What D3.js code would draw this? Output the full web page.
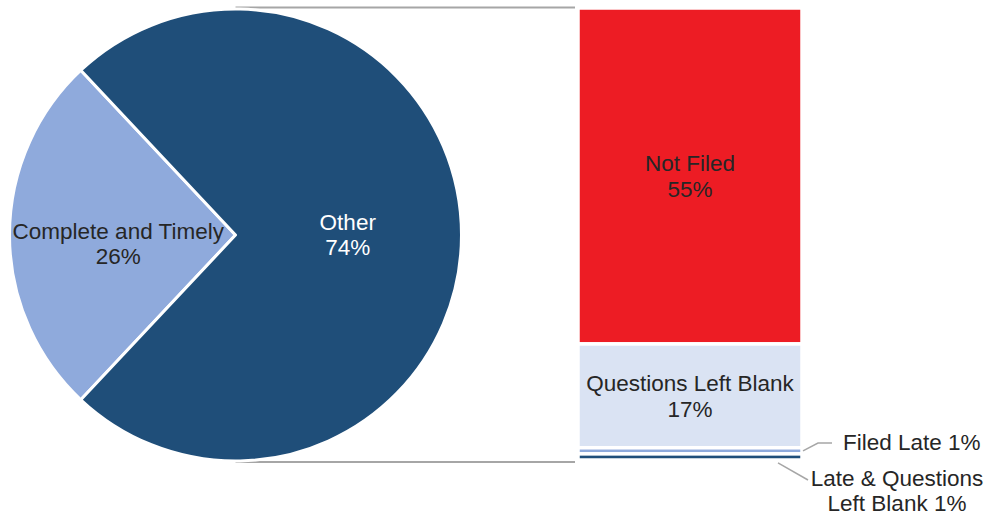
<!DOCTYPE html>
<html>
<head>
<meta charset="utf-8">
<script src="https://cdn.jsdelivr.net/npm/d3@7"></script>
<style>
  body { margin: 0; background: #fff; }
  text { font-family: "Liberation Sans", Arial, sans-serif; font-size: 22.5px; }
</style>
</head>
<body>
<div id="chart"></div>
<script>
var pieLabels = ['Complete and Timely', 'Other'];
var pieValues = [26, 74];

var barLabels = ['Not Filed', 'Questions Left Blank', 'Filed Late', 'Late & Questions Left Blank'];
var barValues = [55, 17, 1, 1];

var col_dark   = '#1F4E79';
var col_light  = '#8FAADC';
var col_red    = '#ED1C24';
var col_pale   = '#DAE3F3';
var col_gray   = '#A6A6A6';
var col_text   = '#262626';

var pieColors = [col_light, col_dark];
var pieTextColors = [col_text, '#fff'];
var barColors = [col_red, col_pale, col_light, col_dark];

var width = 988, height = 519;
var cx = 235.5, cy = 235, radius = 226;
var barX = 578, barW = 224, barTop = 8, barBottom = 460;

var svg = d3.select('#chart').append('svg')
    .attr('width', width)
    .attr('height', height);

// pie, small slice centred on the left
var pie = d3.pie()
    .sort(null)
    .startAngle(-Math.PI / 2 - Math.PI * pieValues[0] / 100)
    .endAngle(3 * Math.PI / 2 - Math.PI * pieValues[0] / 100);

var arc = d3.arc().innerRadius(0).outerRadius(radius);
var labelArc = d3.arc().innerRadius(radius * 0.51).outerRadius(radius * 0.51);
// label nudges (dx, dy) per slice, like excel puts them
var labelNudge = [[-2, 4], [-3, -5]];

var pieData = pie(pieValues);

var total = d3.sum(barValues);
var y = d3.scaleLinear().domain([0, total]).range([barTop, barBottom]);

// connector lines
svg.append('line')
    .attr('x1', cx).attr('x2', barX - 3)
    .attr('y1', cy - radius - 1.5).attr('y2', cy - radius - 1.5)
    .attr('stroke', col_gray).attr('stroke-width', 2);
svg.append('line')
    .attr('x1', cx).attr('x2', barX - 3)
    .attr('y1', cy + radius + 1).attr('y2', cy + radius + 1)
    .attr('stroke', col_gray).attr('stroke-width', 2);

var g = svg.append('g').attr('transform', 'translate(' + cx + ',' + cy + ')');

g.selectAll('path')
    .data(pieData)
    .enter().append('path')
    .attr('d', arc)
    .attr('fill', function(d, i) { return pieColors[i]; })
    .attr('stroke', '#fff')
    .attr('stroke-width', 3)
    .attr('stroke-linejoin', 'round');

var pieText = g.selectAll('.pielabel')
    .data(pieData)
    .enter().append('text')
    .attr('class', 'pielabel')
    .attr('text-anchor', 'middle')
    .attr('fill', function(d, i) { return pieTextColors[i]; })
    .attr('transform', function(d, i) {
        var c = labelArc.centroid(d);
        return 'translate(' + (c[0] + labelNudge[i][0]) + ',' + (c[1] + labelNudge[i][1]) + ')';
    });
pieText.append('tspan')
    .attr('x', 0).attr('y', 0)
    .text(function(d, i) { return pieLabels[i]; });
pieText.append('tspan')
    .attr('x', 0).attr('y', 25)
    .text(function(d, i) { return pieValues[i] + '%'; });

// stacked bar
var stacked = [];
var acc = 0;
barValues.forEach(function(v, i) {
    stacked.push({label: barLabels[i], value: v, y0: acc, y1: acc + v, i: i});
    acc += v;
});

svg.selectAll('.seg')
    .data(stacked)
    .enter().append('rect')
    .attr('class', 'seg')
    .attr('x', barX)
    .attr('width', barW)
    .attr('y', function(d) { return y(d.y0); })
    .attr('height', function(d) { return y(d.y1) - y(d.y0); })
    .attr('fill', function(d) { return barColors[d.i]; })
    .attr('stroke', '#fff')
    .attr('stroke-width', 3.5);

// labels inside the big segments
var inside = stacked.filter(function(d) { return d.value > 5; });
var inText = svg.selectAll('.inlabel')
    .data(inside)
    .enter().append('text')
    .attr('class', 'inlabel')
    .attr('text-anchor', 'middle')
    .attr('fill', col_text);
inText.append('tspan')
    .attr('x', barX + barW / 2)
    .attr('y', function(d) { return (y(d.y0) + y(d.y1)) / 2 - 5; })
    .text(function(d) { return d.label; });
inText.append('tspan')
    .attr('x', barX + barW / 2)
    .attr('y', function(d) { return (y(d.y0) + y(d.y1)) / 2 + 21; })
    .text(function(d) { return d.value + '%'; });

// outside labels for the thin segments
var filedLate = stacked[2], lateQ = stacked[3];
var flY = (y(filedLate.y0) + y(filedLate.y1)) / 2;
var lqY = (y(lateQ.y0) + y(lateQ.y1)) / 2;

svg.append('polyline')
    .attr('points', [[barX + barW + 1, flY], [818, 443], [832, 443]].join(' '))
    .attr('fill', 'none').attr('stroke', col_gray).attr('stroke-width', 1.5);
svg.append('text')
    .attr('x', 843).attr('y', 450)
    .attr('fill', col_text)
    .text(filedLate.label + ' ' + filedLate.value + '%');

svg.append('line')
    .attr('x1', 778).attr('y1', lqY + 6)
    .attr('x2', 808).attr('y2', 480)
    .attr('stroke', col_gray).attr('stroke-width', 1.5);
var lqText = svg.append('text')
    .attr('text-anchor', 'middle')
    .attr('fill', col_text);
lqText.append('tspan').attr('x', 897).attr('y', 486).text('Late & Questions');
lqText.append('tspan').attr('x', 897).attr('y', 511).text('Left Blank ' + lateQ.value + '%');
</script>
</body>
</html>
